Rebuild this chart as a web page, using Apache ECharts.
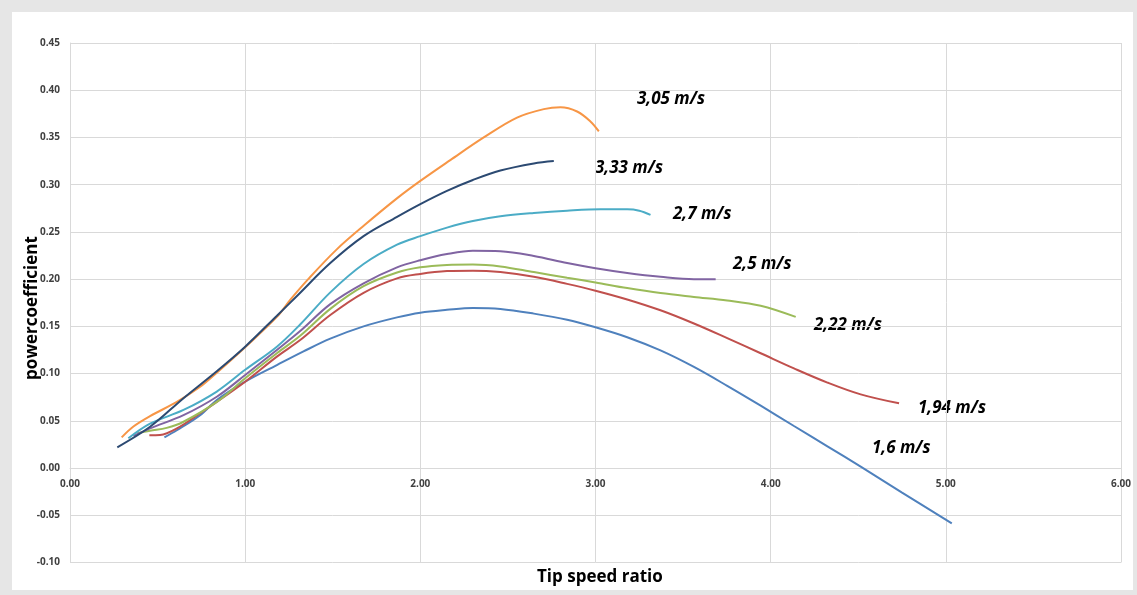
<!DOCTYPE html>
<html><head><meta charset="utf-8">
<script src="https://cdn.jsdelivr.net/npm/echarts@6/dist/echarts.min.js"></script>
<style>
html,body{margin:0;padding:0;background:#e6e6e6;width:1137px;height:595px;overflow:hidden;}
#frame{position:absolute;left:12px;top:12px;width:1121px;height:578px;background:#fff;}
#chart{position:absolute;left:0;top:0;width:1137px;height:595px;}
</style></head>
<body><div id="frame"></div><div id="chart"></div>
<script>
// x: tip speed ratio, y: power coefficient
const s305 = [[0.295,0.0325],[0.362,0.044],[0.457,0.055],[0.61,0.070],[0.743,0.086],[0.838,0.101],[1.0,0.128],[1.181,0.160],[1.257,0.178],[1.36,0.200],[1.52,0.231],[1.68,0.257],[1.87,0.286],[2.0,0.304],[2.171,0.326],[2.362,0.350],[2.552,0.371],[2.705,0.380],[2.8,0.382],[2.895,0.3775],[2.971,0.367],[3.019,0.3565]];
const s333 = [[0.27,0.022],[0.457,0.0437],[0.648,0.074],[0.838,0.1025],[1.0,0.1285],[1.18,0.161],[1.3,0.183],[1.486,0.217],[1.676,0.2455],[1.867,0.266],[2.0,0.2795],[2.152,0.2935],[2.3,0.305],[2.457,0.315],[2.648,0.3225],[2.762,0.325]];
const s27 = [[0.333,0.0315],[0.457,0.047],[0.648,0.0615],[0.838,0.081],[1.0,0.104],[1.181,0.1285],[1.314,0.152],[1.486,0.186],[1.676,0.216],[1.867,0.2365],[2.0,0.2455],[2.152,0.2545],[2.3,0.2615],[2.457,0.2665],[2.648,0.270],[2.838,0.2725],[3.029,0.274],[3.181,0.274],[3.25,0.2725],[3.314,0.268]];
const s25 = [[0.362,0.034],[0.457,0.042],[0.648,0.056],[0.838,0.0755],[1.0,0.0985],[1.181,0.125],[1.314,0.145],[1.486,0.1735],[1.676,0.1956],[1.867,0.2125],[2.0,0.220],[2.152,0.2265],[2.3,0.2300],[2.457,0.2295],[2.648,0.2245],[2.838,0.217],[3.0,0.2115],[3.181,0.2065],[3.371,0.2025],[3.562,0.200],[3.686,0.200]];
const s222 = [[0.381,0.0367],[0.457,0.0395],[0.552,0.0425],[0.648,0.049],[0.838,0.070],[1.0,0.095],[1.181,0.1215],[1.314,0.140],[1.486,0.1685],[1.676,0.1925],[1.867,0.207],[2.0,0.2125],[2.152,0.215],[2.3,0.2155],[2.457,0.2135],[2.648,0.2075],[2.838,0.2015],[3.0,0.1965],[3.181,0.1905],[3.371,0.1852],[3.562,0.1812],[3.752,0.1775],[3.943,0.1718],[4.143,0.160]];
const s194 = [[0.453,0.0346],[0.514,0.035],[0.61,0.042],[0.743,0.058],[0.838,0.070],[1.0,0.0914],[1.181,0.118],[1.314,0.1355],[1.486,0.162],[1.676,0.1855],[1.867,0.2008],[2.0,0.2055],[2.152,0.2085],[2.3,0.209],[2.457,0.2075],[2.648,0.2025],[2.838,0.195],[3.0,0.1878],[3.181,0.1785],[3.371,0.167],[3.562,0.153],[3.752,0.1375],[3.943,0.1215],[4.133,0.1055],[4.324,0.0905],[4.514,0.078],[4.733,0.0685]];
const s16 = [[0.539,0.0325],[0.61,0.040],[0.743,0.056],[0.838,0.072],[1.0,0.0914],[1.181,0.109],[1.333,0.1235],[1.486,0.137],[1.676,0.150],[1.867,0.1595],[2.0,0.1645],[2.152,0.1675],[2.3,0.1695],[2.457,0.1685],[2.648,0.1635],[2.838,0.157],[3.0,0.149],[3.181,0.1385],[3.371,0.1245],[3.562,0.107],[3.752,0.087],[3.943,0.066],[4.133,0.0445],[4.324,0.023],[4.514,0.0015],[4.75,-0.026],[5.034,-0.0585]];
const seriesNames = ['1,6 m/s','1,94 m/s','2,22 m/s','2,5 m/s','2,7 m/s','3,05 m/s','3,33 m/s'];
const seriesData = [s16, s194, s222, s25, s27, s305, s333];
const seriesColors = ['#4f81bd','#c0504d','#9bbb59','#8064a2','#4bacc6','#f79646','#2c4a72'];
// label anchor pixels (left, middle)
const labelPos = {'3,05 m/s':[637,103],'3,33 m/s':[595,172],'2,7 m/s':[673,218],'2,5 m/s':[733,268],'2,22 m/s':[814,329],'1,94 m/s':[918,412],'1,6 m/s':[872,452]};

const chart = echarts.init(document.getElementById('chart'), null, {renderer:'canvas'});
const tickFont = {fontFamily:'Open Sans, sans-serif', fontWeight:'bold', fontSize:10, color:'#404040'};
chart.setOption({
  animation:false,
  backgroundColor:'transparent',
  grid:{left:70, top:43, right:16, bottom:32.5, containLabel:false, outerBoundsMode:'none'},
  xAxis:{type:'value', min:0, max:6, interval:1, position:'bottom', offset:-94.5,
    axisLine:{onZero:false, lineStyle:{color:'#d9d9d9', width:1}},
    axisTick:{show:false},
    splitLine:{show:true, lineStyle:{color:'#d9d9d9', width:1}},
    axisLabel:Object.assign({margin:11, formatter:v=>v.toFixed(2)}, tickFont)
  },
  yAxis:{type:'value', min:-0.1, max:0.45, interval:0.05,
    axisLine:{show:true, lineStyle:{color:'#d9d9d9', width:1}},
    axisTick:{show:false},
    splitLine:{show:true, lineStyle:{color:'#d9d9d9', width:1}},
    axisLabel:Object.assign({margin:10, formatter:v=>v.toFixed(2)}, tickFont)
  },
  series: seriesData.map((d,i)=>({
    type:'line', name:seriesNames[i], data:d, smooth:0.35, showSymbol:false, symbol:'none',
    lineStyle:{color:seriesColors[i], width:2}, z: 2+i
  })),
  graphic: seriesNames.map(n=>({
    type:'text', left:labelPos[n][0], top:labelPos[n][1]-12,
    style:{text:n, fill:'#000', font:'italic bold 17px "Open Sans", sans-serif'}
  })).concat([{
    type:'text', left:537, top:569,
    style:{text:'Tip speed ratio', fill:'#000', font:'bold 17px "Open Sans", sans-serif'}
  },{
    type:'text', x:32, y:308, rotation:Math.PI/2,
    style:{text:'powercoefficient', fill:'#000', font:'bold 17px "Open Sans", sans-serif', align:'center', verticalAlign:'middle'}
  }])
});
</script></body></html>
